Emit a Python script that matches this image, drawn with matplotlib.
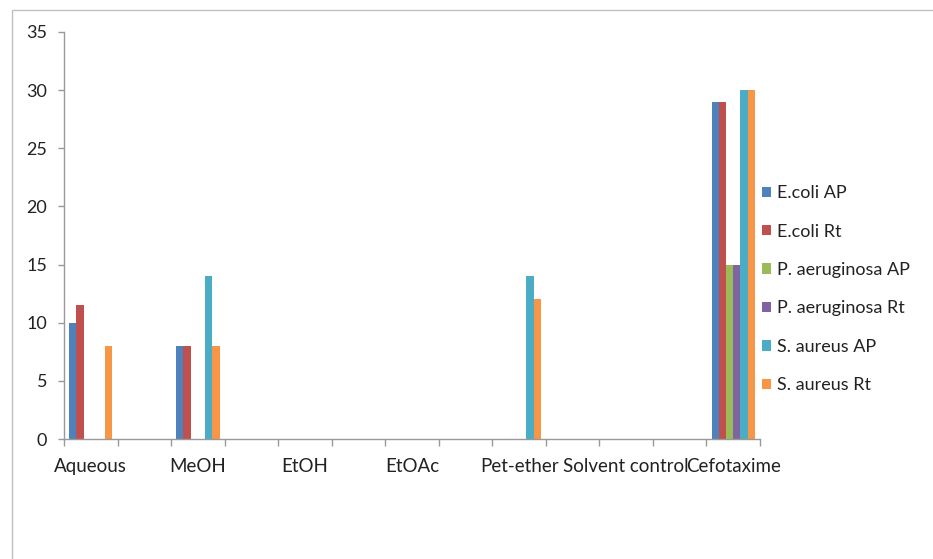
import matplotlib
matplotlib.use("Agg")
import matplotlib.pyplot as plt
from matplotlib.patches import Rectangle
import numpy as np

plt.rcParams['font.family'] = ['Lato', 'DejaVu Sans']

categories = ["Aqueous", "MeOH", "EtOH", "EtOAc", "Pet-ether", "Solvent control", "Cefotaxime"]
series_names = ["E.coli AP", "E.coli Rt", "P. aeruginosa AP", "P. aeruginosa Rt",
                "S. aureus AP", "S. aureus Rt"]
ecoli_ap = [10, 8, 0, 0, 0, 0, 29]
ecoli_rt = [11.5, 8, 0, 0, 0, 0, 29]
paer_ap = [0, 0, 0, 0, 0, 0, 15]
paer_rt = [0, 0, 0, 0, 0, 0, 15]
saur_ap = [0, 14, 0, 0, 14, 0, 30]
saur_rt = [8, 8, 0, 0, 12, 0, 30]
yticks = [0, 5, 10, 15, 20, 25, 30, 35]

series = [ecoli_ap, ecoli_rt, paer_ap, paer_rt, saur_ap, saur_rt]
colors = ["#4F81BD", "#C0504D", "#9BBB59", "#8064A2", "#4BACC6", "#F79646"]

W, H = 933, 559
fig = plt.figure(figsize=(W / 100, H / 100), dpi=100)
ax = fig.add_axes([64 / W, (H - 439) / H, 696 / W, 407 / H])

# every category sits in every other slot of a 13-slot axis
n_slots = 2 * len(categories) - 1
pos = np.arange(len(categories)) * 2
bw = 0.81 / len(series)
for i, (vals, c, name) in enumerate(zip(series, colors, series_names)):
    ax.bar(pos + (i - 2.5) * bw, vals, width=bw, color=c, label=name, linewidth=0)

ax.set_xlim(-0.5, n_slots - 0.5)
ax.set_ylim(0, 35)
ax.set_yticks(yticks)
ax.set_yticklabels([str(v) for v in yticks], fontsize=13, color="#222222")

ax.set_xticks(np.arange(n_slots + 1) - 0.5)
ax.set_xticklabels([])
ax.tick_params(axis='x', direction='out', length=5, color="#999999", width=1)
ax.tick_params(axis='y', direction='out', length=4, color="#999999", width=1, pad=8)
for p, lab in zip(pos, categories):
    ax.text(p, -2.35, lab, ha='center', va='center', fontsize=13.5, color="#222222")

for s in ["top", "right"]:
    ax.spines[s].set_visible(False)
for s in ["left", "bottom"]:
    ax.spines[s].set_color("#999999")
    ax.spines[s].set_linewidth(1)

leg = fig.legend(loc='upper left', bbox_to_anchor=(746 / W, 1 - 169 / H), frameon=False,
                 fontsize=13, handlelength=0.5, handleheight=0.5, handletextpad=0.3,
                 labelspacing=1.24)
for t in leg.get_texts():
    t.set_color("#222222")

# outer chart border
fig.patches.append(Rectangle((12 / W, -0.1), 1.2, 1 - 10 / H + 0.1, transform=fig.transFigure,
                             fill=False, edgecolor="#c0c0c0", linewidth=1))

fig.savefig("out.png", dpi=100)
